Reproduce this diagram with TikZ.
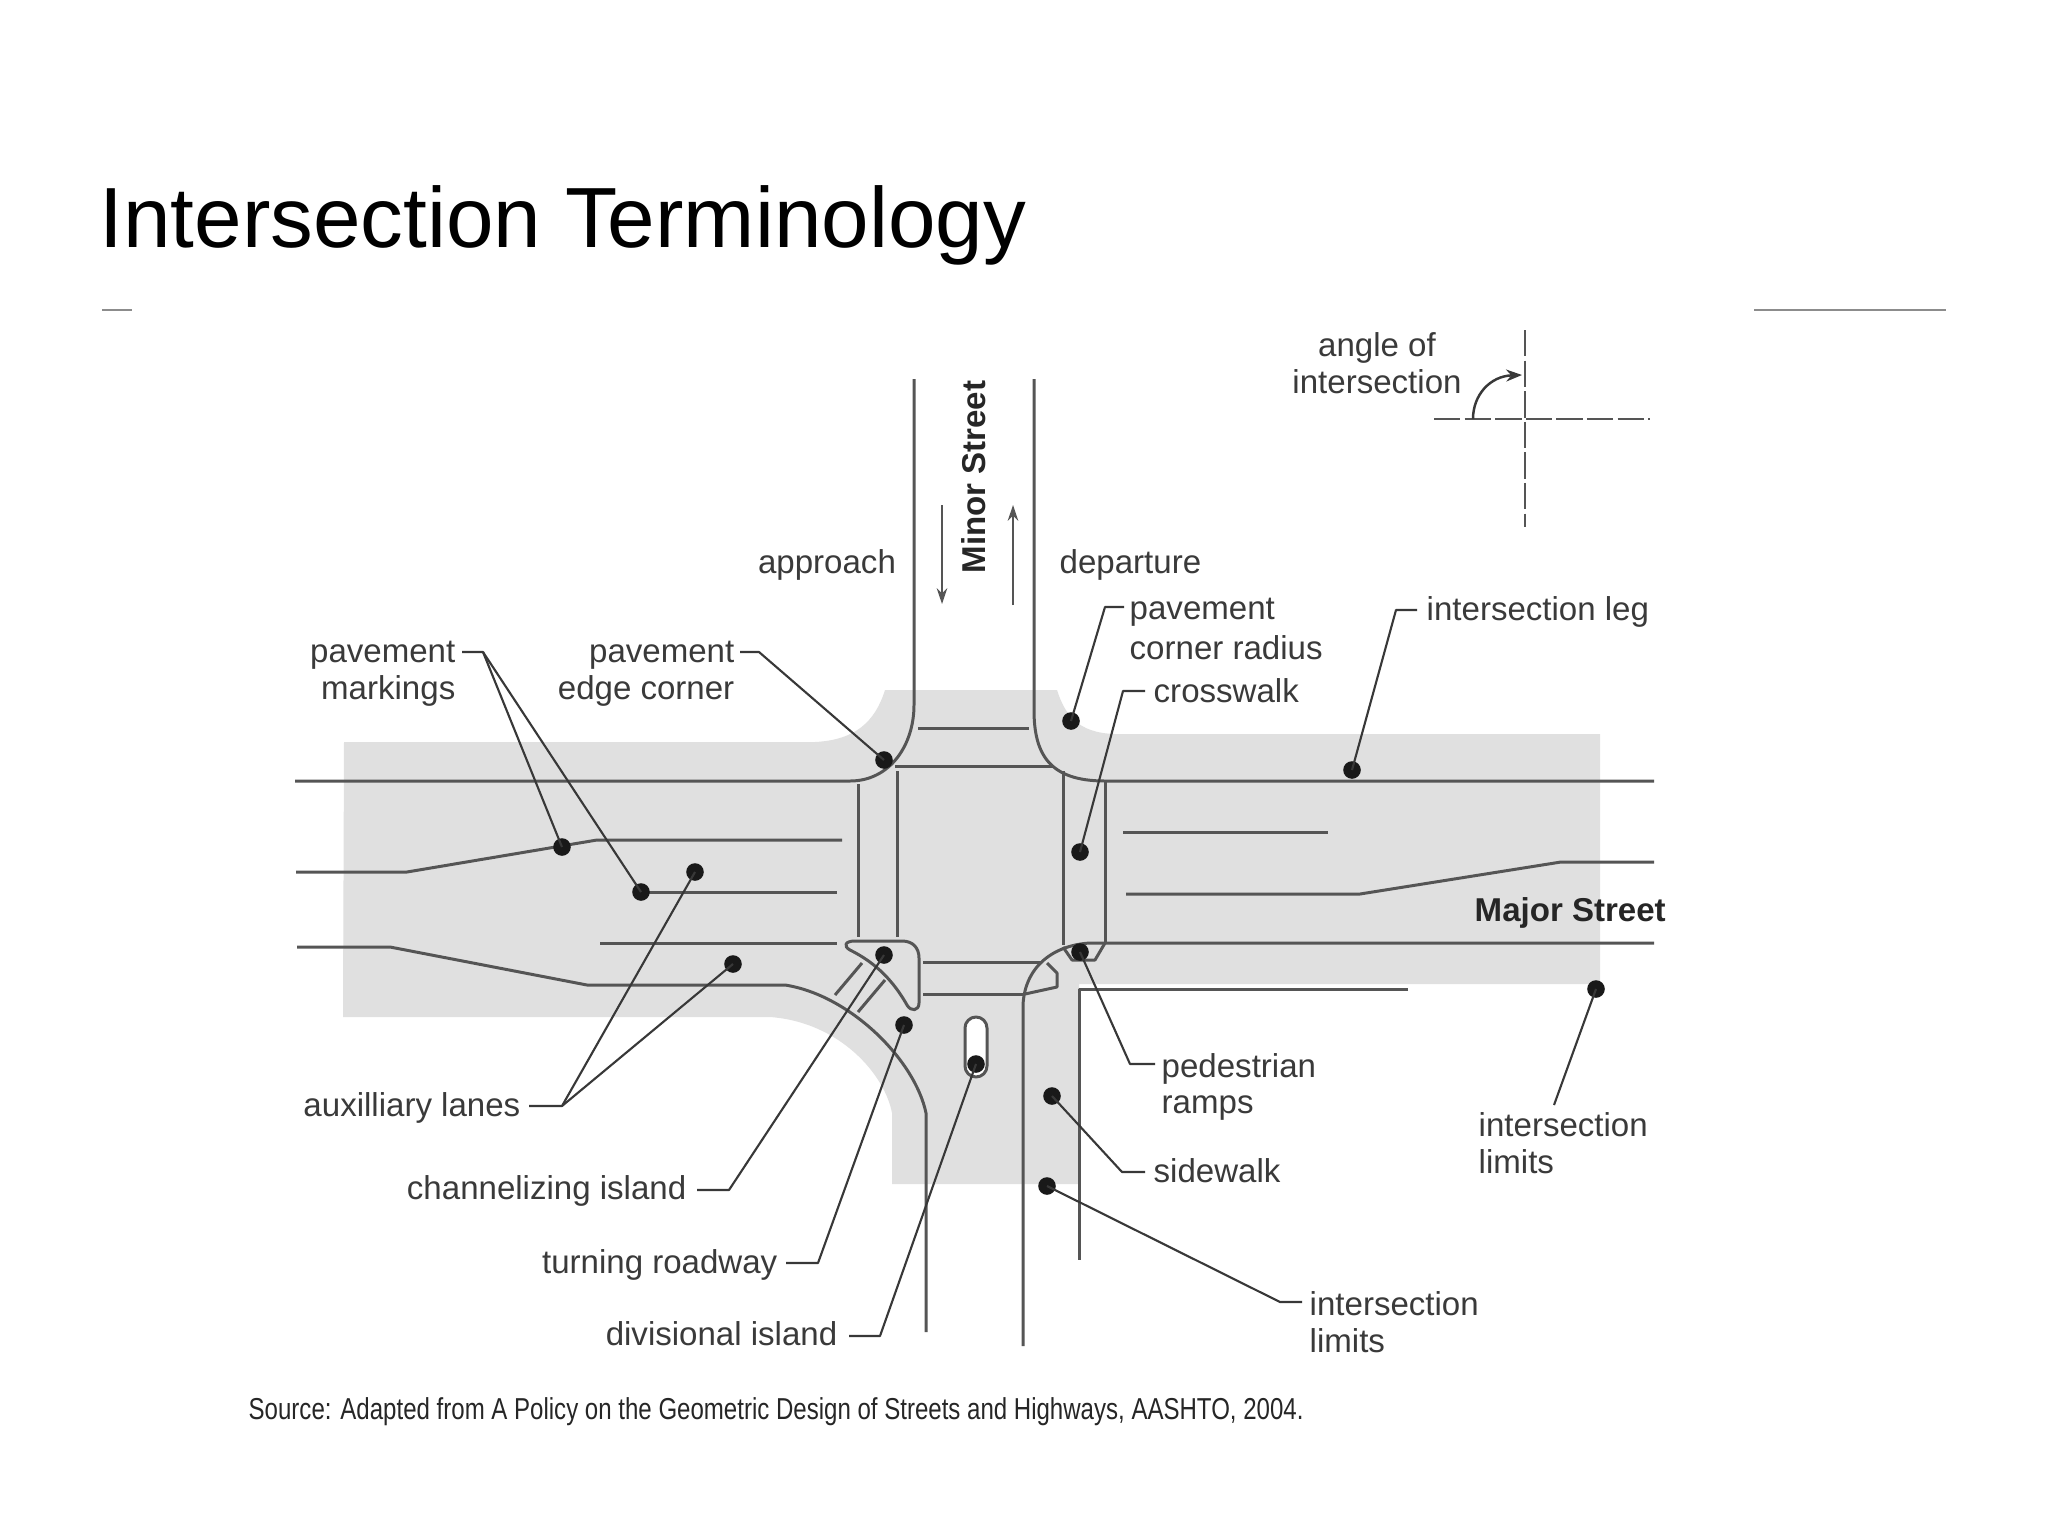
\documentclass[tikz,border=0pt]{standalone}
\usepackage{fontspec}
\setmainfont{Liberation Sans}
\usetikzlibrary{arrows.meta}
\definecolor{pave}{HTML}{E0E0E0}
\definecolor{road}{HTML}{555555}
\definecolor{ink}{HTML}{3A3A3A}
\definecolor{lead}{HTML}{383838}
\tikzset{
  roadline/.style={draw=road,line width=0.85pt,line join=round},
  leader/.style={draw=lead,line width=0.6pt,line join=round},
  pin/.style={circle,fill=black!90,inner sep=0pt,minimum size=5pt},
  lab/.style={text=ink,inner sep=0pt,font=\fontsize{9.4}{10.4}\selectfont},
  labl/.style={lab,anchor=west,align=left},
  labr/.style={lab,anchor=east,align=right},
  labc/.style={lab,anchor=center,align=center},
  boldlab/.style={text=black!85,inner sep=0pt,font=\fontsize{9.4}{10.4}\selectfont\bfseries},
  axisline/.style={draw=road,line width=0.6pt,dash pattern=on 7.5pt off 1.2pt},
  flow/.style={draw=road,line width=0.55pt,-{Stealth[length=4.5pt,width=3pt]}}
}
\begin{document}
\begin{tikzpicture}[x=0.01cm,y=-0.01cm]
\useasboundingbox (0,0) rectangle (2048,1536);
\fill[white] (0,0) rectangle (2048,1536);
% title and rules
\node[anchor=west,inner sep=0pt,font=\fontsize{24.3}{27}\selectfont] (title) at (99,225) {Intersection Terminology};
\draw[black!45,line width=0.3pt] (102,310) -- (132,310);
\draw[black!45,line width=0.3pt] (1754,310) -- (1946,310);
% pavement
\fill[pave] (344,742) -- (815,742) .. controls (855,740) and (875,722) .. (885,690)
  -- (1057,690) .. controls (1065,715) and (1078,733) .. (1115,734)
  -- (1600,734) -- (1600,984) -- (1079,984) -- (1079,1184) -- (892,1184) -- (892,1113)
  .. controls (885,1075) and (840,1022) .. (770,1017) -- (343,1017) -- cycle;
% road edges
\draw[roadline] (295,781) -- (850,781) .. controls (890,781) and (914,745) .. (914,705) -- (914,379);
\draw[roadline] (1034,379) -- (1034,710) .. controls (1034,755) and (1050,781) .. (1105,781) -- (1654,781);
% lane lines, left
\draw[roadline] (296,872) -- (407,872) -- (597,840) -- (842,840);
\draw[roadline] (640,892) -- (837,892);
\draw[roadline] (600,943) -- (837,943);
\draw[roadline] (297,947) -- (390,947) -- (587,985) -- (785,985)
  .. controls (850,995) and (915,1060) .. (926,1113) -- (926,1332);
% crosswalk and stop lines
\draw[roadline] (858,784) -- (858,937);
\draw[roadline] (897,771) -- (897,937);
\draw[roadline] (895,766) -- (1053,766);
\draw[roadline] (918,728) -- (1029,728);
\draw[roadline] (1063,771) -- (1063,945);
\draw[roadline] (1105,781) -- (1105,942);
\draw[roadline] (1123,832) -- (1328,832);
\draw[roadline] (1126,894) -- (1360,894) -- (1561,862) -- (1654,862);
\draw[roadline] (923,962) -- (1042,962);
\draw[roadline] (923,994) -- (1025,994);
% right lower kerb
\draw[roadline] (1654,943) -- (1090,943) .. controls (1055,945) and (1025,965) .. (1023,1005) -- (1023,1346);
\draw[roadline] (1063,947) -- (1072,960) -- (1095,960) -- (1105,943);
\draw[roadline] (1047,963) -- (1057,973) -- (1057,987) -- (1025,994);
% sidewalk
\draw[roadline] (1408,989) -- (1079,989) -- (1079,1260);
% channelizing island
\draw[roadline] (855,941) -- (902,941) .. controls (913,941) and (919,948) .. (919,958) -- (919,1003)
  .. controls (919,1011) and (911,1012) .. (907,1005) .. controls (890,975) and (870,960) .. (850,950)
  .. controls (843,946) and (845,941) .. (855,941) -- cycle;
\draw[roadline] (835,995) -- (862,963);
\draw[roadline] (858,1012) -- (885,980);
% divisional island
\draw[roadline,fill=white] (965,1028) arc[start angle=180,end angle=360,radius=11] -- (987,1066) arc[start angle=0,end angle=180,radius=11] -- cycle;
% flow arrows
\draw[flow] (942,505) -- (942,604);
\draw[flow] (1013,605) -- (1013,505);
% angle of intersection
\draw[axisline] (1525,330) -- (1525,527);
\draw[axisline] (1434,419) -- (1650,419);
\draw[draw=lead,line width=0.7pt,-{Stealth[length=4.5pt,width=3.4pt]}] (1473,419) .. controls (1473,395) and (1490,376) .. (1522,375);
% dots
\node[pin] (dMarkA) at (562,847) {};
\node[pin] (dMarkB) at (641,892) {};
\node[pin] (dEdge) at (884,760) {};
\node[pin] (dRadius) at (1071,721) {};
\node[pin] (dCross) at (1080,852) {};
\node[pin] (dLeg) at (1352,770) {};
\node[pin] (dLimA) at (1596,989) {};
\node[pin] (dLimB) at (1047,1186) {};
\node[pin] (dSide) at (1052,1096) {};
\node[pin] (dRamp) at (1080,952) {};
\node[pin] (dAuxA) at (695,872) {};
\node[pin] (dAuxB) at (733,964) {};
\node[pin] (dChan) at (884,955) {};
\node[pin] (dTurn) at (904,1025) {};
\node[pin] (dDiv) at (976,1064) {};
% labels
\node[labc] (approach) at (827,565) {approach};
\node[labl] (departure) at (1059,565) {departure};
\node[boldlab,rotate=90] (minor) at (974,477) {Minor Street};
\node[boldlab,anchor=west] (major) at (1474,913) {Major Street};
\node[labc] (angle) at (1377,363) {angle of\\intersection};
\node[labr] (markings) at (456,674) {pavement\\markings};
\node[labr] (edge) at (735,674) {pavement\\edge corner};
\node[labl] (radius) at (1129,629) {pavement\\[1pt]corner radius};
\node[labl] (crosswalk) at (1153,691) {crosswalk};
\node[labl] (leg) at (1426,612) {intersection leg};
\node[labl] (limA) at (1478,1143) {intersection\\limits};
\node[labl] (limB) at (1309,1322) {intersection\\limits};
\node[labl] (sidewalk) at (1153,1171) {sidewalk};
\node[labl] (ramps) at (1161,1087) {pedestrian\\ramps};
\node[labr] (aux) at (521,1108) {auxilliary lanes};
\node[labr] (chan) at (687,1191) {channelizing island};
\node[labr] (turn) at (778,1265) {turning roadway};
\node[labr] (div) at (838,1334) {divisional island};
\node[anchor=west,inner sep=0pt,text=black!85,font=\fontsize{8.6}{9.5}\selectfont] (source) at (248,1412) {\scalebox{0.795}[1]{Source: Adapted from A Policy on the Geometric Design of Streets and Highways, AASHTO, 2004.}};
% leaders
\coordinate (eMark) at (483,652);
\draw[leader] (462,652) coordinate (sMark) -- (eMark) -- (dMarkA.center);
\draw[leader] (eMark) -- (dMarkB.center);
\draw[leader] (740,652) coordinate (sEdge) -- (759,652) coordinate (eEdge) -- (dEdge.center);
\draw[leader] (1124,607) coordinate (sRad) -- (1105,607) coordinate (eRad) -- (dRadius.center);
\draw[leader] (1145,691) coordinate (sCross) -- (1123,691) coordinate (eCross) -- (dCross.center);
\draw[leader] (1417,610) coordinate (sLeg) -- (1396,610) coordinate (eLeg) -- (dLeg.center);
\draw[leader] (1554,1105) coordinate (sLimA) -- (dLimA.center);
\draw[leader] (1302,1302) coordinate (sLimB) -- (1280,1302) coordinate (eLimB) -- (dLimB.center);
\draw[leader] (1145,1172) coordinate (sSide) -- (1122,1172) coordinate (eSide) -- (dSide.center);
\draw[leader] (1155,1064) coordinate (sRamp) -- (1130,1064) coordinate (eRamp) -- (dRamp.center);
\coordinate (eAux) at (562,1106);
\draw[leader] (529,1106) coordinate (sAux) -- (eAux) -- (dAuxA.center);
\draw[leader] (eAux) -- (dAuxB.center);
\draw[leader] (697,1190) coordinate (sChan) -- (729,1190) coordinate (eChan) -- (dChan.center);
\draw[leader] (786,1263) coordinate (sTurn) -- (818,1263) coordinate (eTurn) -- (dTurn.center);
\draw[leader] (849,1336) coordinate (sDiv) -- (880,1336) coordinate (eDiv) -- (dDiv.center);
\end{tikzpicture}
\end{document}
